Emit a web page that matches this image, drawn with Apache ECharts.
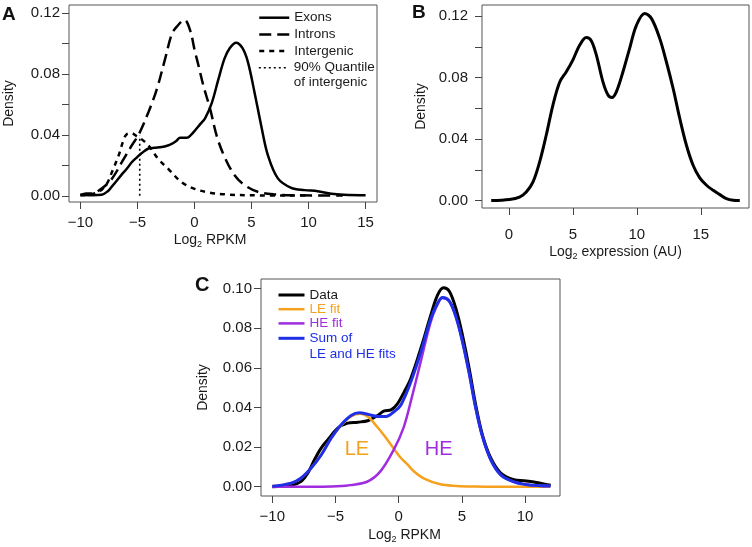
<!DOCTYPE html>
<html><head><meta charset="utf-8">
<script src="https://cdn.jsdelivr.net/npm/echarts@6/dist/echarts.min.js"></script>
<style>html,body{margin:0;padding:0;background:#fff}#c{width:752px;height:547px}</style>
</head><body><div id="c"></div>
<script>
// ---------- Panel A data (Log2 RPKM, density) ----------
const exonsA = [[-10,0.0005],[-9,0.0004],[-8.13,0.0007],[-7.6,0.003],[-7.25,0.006],[-6.8,0.010],[-6.37,0.014],[-5.9,0.018],[-5.5,0.022],[-5.0,0.0255],[-4.62,0.028],[-4.03,0.031],[-3.5,0.0315],[-2.87,0.032],[-2.4,0.0328],[-2.0,0.034],[-1.6,0.036],[-1.26,0.038],[-0.67,0.038],[-0.3,0.040],[0.06,0.043],[0.5,0.047],[0.94,0.051],[1.52,0.061],[2.1,0.0765],[2.63,0.090],[3.1,0.097],[3.65,0.1005],[4.2,0.097],[4.68,0.0879],[5.26,0.068],[5.85,0.046],[6.43,0.0267],[7.31,0.0114],[8.48,0.0052],[9.65,0.0037],[10.8,0.003],[12.0,0.0013],[13.5,0.0005],[15,0.0004]];
const intronsA = [[-10,0.0005],[-9.5,0.0015],[-9,0.0015],[-8.13,0.0048],[-7.25,0.011],[-6.37,0.022],[-5.5,0.033],[-4.9,0.040],[-4.03,0.055],[-3.3,0.070],[-2.57,0.090],[-1.99,0.106],[-1.55,0.111],[-0.88,0.1154],[-0.38,0.1086],[0.0,0.096],[0.4,0.084],[0.79,0.072],[1.37,0.057],[1.96,0.039],[2.63,0.0256],[3.5,0.0136],[4.38,0.007],[5.55,0.0026],[7.0,0.0009],[9,0.0003],[13,0.0002]];
const intergenicA = [[-10,0.0003],[-9,0.001],[-8.13,0.004],[-7.6,0.009],[-7.25,0.0153],[-6.67,0.026],[-6.2,0.037],[-5.94,0.0404],[-5.5,0.041],[-5.06,0.039],[-4.62,0.037],[-4.03,0.033],[-3.16,0.024],[-2.28,0.0175],[-1.1,0.0087],[0.06,0.0044],[1.23,0.0022],[2.69,0.0009],[5,0.0003],[10,0.0001]];
const quantileA = [[-4.8,0],[-4.8,0.0395]];
const legendA = ['Exons','Introns','Intergenic'];
const legendA2 = ['90% Quantile'];
const legendTextA2 = ['\u00a0\n90% Quantile\nof intergenic'];
const xTicksA = [-10,-5,0,5,10,15];
const yTicksA = [0,0.02,0.04,0.06,0.08,0.10,0.12];
const yLabelsA = [0,0.04,0.08,0.12];

// ---------- Panel B data (Log2 expression, density) ----------
const exprB = [[-1.38,0],[0.05,0.0007],[0.83,0.0022],[1.36,0.0056],[1.88,0.012],[2.4,0.025],[2.92,0.0425],[3.44,0.062],[3.97,0.077],[4.49,0.0838],[5.0,0.0914],[5.53,0.101],[6.05,0.106],[6.44,0.104],[6.84,0.0946],[7.36,0.077],[7.75,0.0686],[8.06,0.067],[8.4,0.0707],[8.92,0.0838],[9.44,0.099],[9.97,0.114],[10.62,0.1217],[11.14,0.1185],[11.79,0.1055],[12.31,0.0903],[12.84,0.0729],[13.36,0.0534],[13.88,0.036],[14.4,0.023],[14.92,0.0148],[15.45,0.010],[15.97,0.0067],[16.49,0.0039],[17.0,0.0013],[17.53,0.0002],[18.05,0]];
const xTicksB = [0,5,10,15];
const yTicksB = [0,0.02,0.04,0.06,0.08,0.10,0.12];
const yLabelsB = [0,0.04,0.08,0.12];

// ---------- Panel C data ----------
const dataC = [[-10,0],[-9.2,0.0002],[-8.5,0.0007],[-7.71,0.0027],[-7.18,0.0069],[-6.66,0.0136],[-6.13,0.0195],[-5.6,0.0237],[-4.82,0.0296],[-4.03,0.0321],[-3.24,0.0326],[-2.45,0.0333],[-1.66,0.036],[-1.13,0.0383],[-0.6,0.0388],[-0.08,0.042],[0.45,0.048],[0.97,0.0548],[1.76,0.0699],[2.55,0.0867],[3.08,0.0968],[3.55,0.1005],[4.0,0.0988],[4.53,0.090],[5.05,0.0766],[5.58,0.0598],[6.1,0.0413],[6.63,0.0262],[7.29,0.0145],[8.08,0.0069],[9.13,0.0035],[9.92,0.003],[10.71,0.0024],[11.4,0.0015],[12.03,0.0007]];
const leFitC = [[-10,0.0002],[-8.5,0.0018],[-7.71,0.0044],[-6.92,0.0094],[-6.13,0.016],[-5.34,0.0245],[-4.55,0.031],[-3.76,0.0355],[-3.04,0.0368],[-2.4,0.0352],[-1.72,0.0304],[-1.1,0.0255],[-0.4,0.0194],[0.18,0.0145],[0.66,0.0115],[1.2,0.0078],[1.98,0.0042],[3.3,0.0012],[4.6,0.0004],[6,0.0001],[8,0],[12,0]];
const heFitC = [[-10,0],[-6,0],[-4.5,0.0003],[-3.84,0.0008],[-2.5,0.0025],[-1.46,0.0076],[-0.4,0.0185],[0.4,0.030],[1.06,0.0455],[1.72,0.0624],[2.51,0.0826],[3.0,0.091],[3.47,0.0953],[4.0,0.0937],[4.53,0.0858],[5.05,0.0733],[5.58,0.0573],[6.1,0.0397],[6.63,0.0254],[7.29,0.0136],[8.08,0.006],[9.13,0.0024],[10.18,0.001],[12,0.0003]];
const sumC = [[-10,0.0002],[-8.5,0.0018],[-7.71,0.0044],[-6.92,0.0094],[-6.13,0.016],[-5.34,0.0245],[-4.55,0.0313],[-3.76,0.036],[-3.1,0.0373],[-2.45,0.0366],[-1.66,0.0355],[-1.0,0.0355],[-0.34,0.038],[0.18,0.0413],[0.97,0.053],[1.76,0.068],[2.55,0.085],[3.08,0.0926],[3.47,0.0955],[4.0,0.0938],[4.53,0.0859],[5.05,0.0733],[5.58,0.0573],[6.1,0.0397],[6.63,0.0254],[7.29,0.0136],[8.08,0.006],[9.13,0.0024],[10.18,0.001],[12.03,0.0003]];
const legendC = ['Data','LE fit','HE fit'];
const legendC2 = ['Sum of LE and HE fits'];
const legendTextC2 = ['\u00a0\nSum of\nLE and HE fits'];
const regionLabelsC = ['LE','HE'];
const regionCoordsC = [[-3.3,0.0186],[3.17,0.0186]];
const xTicksC = [-10,-5,0,5,10];
const yTicksC = [0,0.02,0.04,0.06,0.08,0.10];

// ---------- styling ----------
const FONT = '"Liberation Sans", Arial, Helvetica, sans-serif';
const TXT = '#1a1a1a';
const BOX = '#555';
const ORANGE = '#F5A11E', PURPLE = '#A02CE0', BLUE = '#1F2FE6';

const fmtNum = v => String(v).replace('-', '\u2212');
const fmt2 = v => v.toFixed(2);

function xAxis(gi, min, max, ticks, name, opts) {
  return {
    type: 'value', gridIndex: gi, min, max,
    axisLine: { show: false, onZero: false },
    splitLine: { show: false },
    axisTick: { show: true, inside: false, length: 7, customValues: ticks, lineStyle: { color: '#444', width: 1 } },
    axisLabel: { show: true, customValues: ticks, formatter: fmtNum, fontSize: opts.fs, color: TXT, fontFamily: FONT, margin: opts.margin },
    name, nameLocation: 'middle', nameGap: opts.nameGap,
    nameTextStyle: { fontSize: 14, color: TXT, fontFamily: FONT, lineHeight: 18, padding: opts.namePad || 0,
      rich: { s: { fontSize: 9, fontFamily: FONT, color: TXT, verticalAlign: 'bottom', lineHeight: 9 } } }
  };
}
function yAxis(gi, min, max, ticks, labels, opts) {
  return {
    type: 'value', gridIndex: gi, min, max,
    axisLine: { show: false, onZero: false },
    splitLine: { show: false },
    axisTick: { show: true, inside: false, length: 7, customValues: ticks, lineStyle: { color: '#444', width: 1 } },
    axisLabel: { show: true, customValues: labels, formatter: fmt2, fontSize: opts.fs, color: TXT, fontFamily: FONT, margin: opts.margin },
    name: 'Density', nameLocation: 'middle', nameGap: opts.nameGap,
    nameTextStyle: { fontSize: 14, color: TXT, fontFamily: FONT }
  };
}
function line(name, xi, data, color, width, type, z) {
  return {
    type: 'line', name, xAxisIndex: xi, yAxisIndex: xi, data,
    symbol: 'none', showSymbol: false, smooth: 0.35, silent: true, z: z || 2,
    lineStyle: { color, width, type: type || 'solid', cap: 'butt' },
    itemStyle: { color }
  };
}
function legend(names, left, top, iw, fs, lh, colors, texts) {
  return {
    left, top, orient: 'vertical', padding: 0, itemWidth: iw, itemHeight: 10, itemGap: 0,
    selectedMode: false, lineStyle: { width: 'inherit' }, itemStyle: { opacity: 0 },
    textStyle: { fontSize: fs, color: TXT, fontFamily: FONT, lineHeight: lh },
    formatter: n => texts ? texts[names.indexOf(n)] : n,
    data: names.map((n, i) => colors ? { name: n, textStyle: { color: colors[i] } } : { name: n })
  };
}

const gridBase = { show: true, borderColor: BOX, borderWidth: 1, backgroundColor: 'transparent', outerBoundsMode: 'none' };

const option = {
  animation: false,
  backgroundColor: '#fff',
  textStyle: { fontFamily: FONT },
  title: [
    { text: 'A', left: 2, top: 5, padding: 0, textStyle: { fontSize: 19, fontWeight: 'bold', color: '#111', fontFamily: FONT } },
    { text: 'B', left: 412, top: 3, padding: 0, textStyle: { fontSize: 19, fontWeight: 'bold', color: '#111', fontFamily: FONT } },
    { text: 'C', left: 195, top: 275, padding: 0, textStyle: { fontSize: 20, fontWeight: 'bold', color: '#111', fontFamily: FONT } }
  ],
  grid: [
    Object.assign({ left: 69, top: 5, width: 308, height: 197 }, gridBase),
    Object.assign({ left: 482, top: 5, width: 267, height: 203 }, gridBase),
    Object.assign({ left: 261, top: 279, width: 299, height: 217 }, gridBase)
  ],
  xAxis: [
    xAxis(0, -11, 16, xTicksA, 'Log{s|2} RPKM', { fs: 15, margin: 13, nameGap: 29, namePad: [0, 26, 0, 0] }),
    xAxis(1, -2.1, 18.77, xTicksB, 'Log{s|2} expression (AU)', { fs: 15, margin: 19, nameGap: 28 }),
    xAxis(2, -10.89, 12.77, xTicksC, 'Log{s|2} RPKM', { fs: 15, margin: 13, nameGap: 30, namePad: [0, 12, 0, 0] })
  ],
  yAxis: [
    yAxis(0, -0.0041, 0.1252, yTicksA, yLabelsA, { fs: 15, margin: 9, nameGap: 53 }),
    yAxis(1, -0.0048, 0.1272, yTicksB, yLabelsB, { fs: 15, margin: 14, nameGap: 54 }),
    yAxis(2, -0.0047, 0.1049, yTicksC, yTicksC, { fs: 15, margin: 9, nameGap: 51 })
  ],
  legend: [
    legend(legendA, 258, 9.35, 30, 13.5, 16.7, null, null),
    legend(legendA2, 258, 45.8, 30, 13.5, 14.6, null, legendTextA2),
    legend(legendC, 277, 287.9, 26, 13.5, 14.2, [TXT, ORANGE, PURPLE], null),
    legend(legendC2, 277, 314.3, 26, 13.5, 16, [BLUE], legendTextC2)
  ],
  series: [
    line('Exons', 0, exonsA, '#000', 2.5, 'solid', 5),
    line('Introns', 0, intronsA, '#000', 2.5, [12, 6], 4),
    line('Intergenic', 0, intergenicA, '#000', 2.5, [5, 5], 3),
    Object.assign(line('90% Quantile', 0, quantileA, '#000', 1.6, [2, 3], 3), { smooth: false }),
    line('B density', 1, exprB, '#000', 3, 'solid', 2),
    line('Data', 2, dataC, '#000', 3, 'solid', 2),
    Object.assign(line('LE fit', 2, leFitC, ORANGE, 2.5, 'solid', 3), {
      markPoint: {
        symbol: 'circle', symbolSize: 0, silent: true,
        label: { show: true, position: 'inside', formatter: p => p.name, fontSize: 20, fontFamily: FONT },
        data: regionLabelsC.map((t, i) => ({ name: t, coord: regionCoordsC[i], label: { color: i === 0 ? ORANGE : PURPLE } }))
      }
    }),
    line('HE fit', 2, heFitC, PURPLE, 2.5, 'solid', 4),
    line('Sum of LE and HE fits', 2, sumC, BLUE, 3, 'solid', 5)
  ]
};

const chart = echarts.init(document.getElementById('c'), null, { renderer: 'canvas' });
chart.setOption(option);
</script>
</body></html>
